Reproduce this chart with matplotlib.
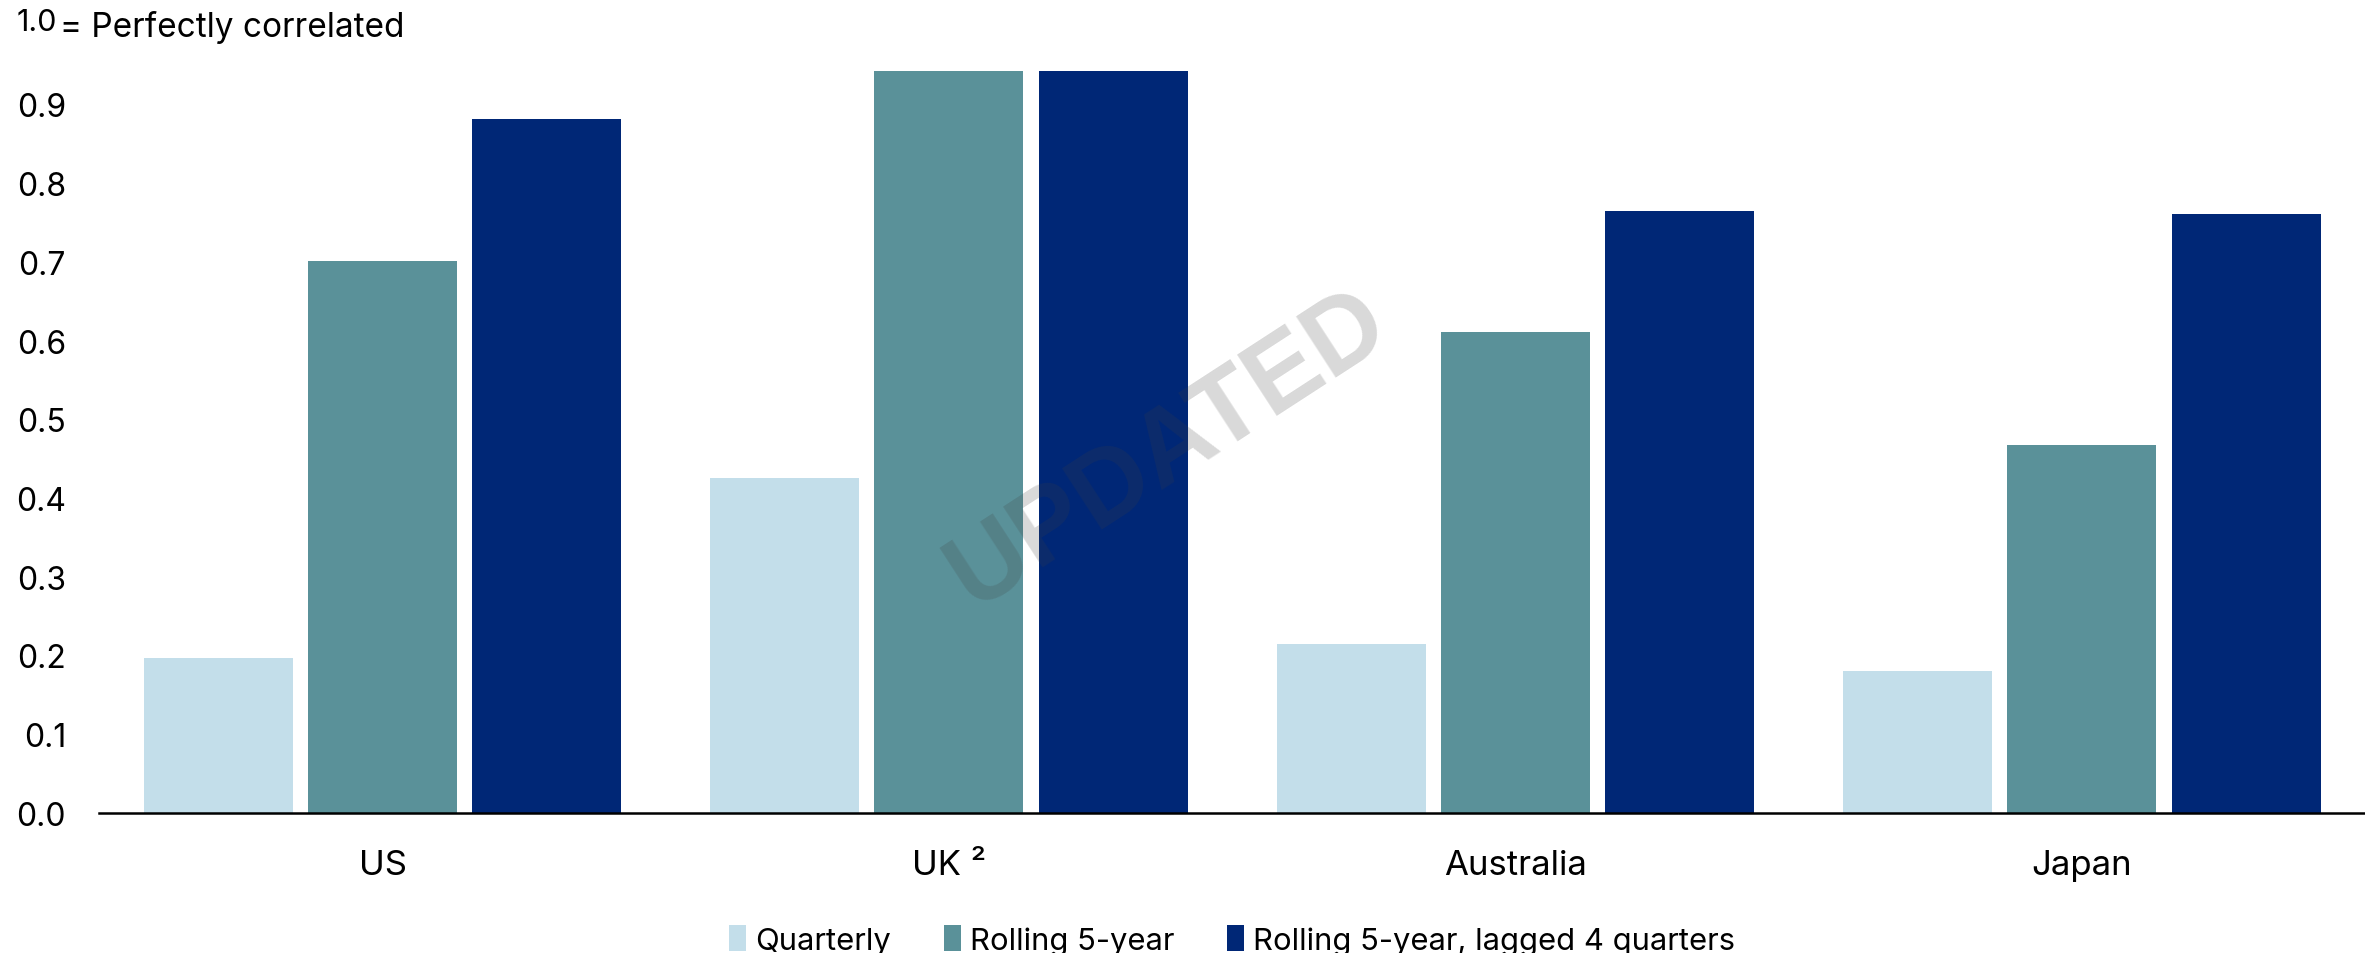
import numpy as np
import matplotlib
matplotlib.use("Agg")
import matplotlib.pyplot as plt

countries = ["US", "UK ²", "Australia", "Japan"]
quarterly = [0.197, 0.425, 0.215, 0.180]
rolling_5y = [0.701, 0.943, 0.611, 0.467]
rolling_5y_lagged = [0.881, 0.943, 0.764, 0.761]
series_names = ["Quarterly", "Rolling 5-year", "Rolling 5-year, lagged 4 quarters"]
colors = ["#C3DEEA", "#5A9199", "#002776"]
y_ticks = [0.0, 0.1, 0.2, 0.3, 0.4, 0.5, 0.6, 0.7, 0.8, 0.9]

plt.rcParams["font.family"] = ["Inter", "DejaVu Sans"]

fig = plt.figure(figsize=(23.65, 9.54), dpi=100)
ax = fig.add_axes([0.042, 0.147, 0.958, 0.825])

x = np.arange(len(countries))
width = 0.263
step = 0.29
for i, (vals, name, col) in enumerate(zip([quarterly, rolling_5y, rolling_5y_lagged], series_names, colors)):
    ax.bar(x + (i - 1) * step, vals, width, color=col, label=name, zorder=2)

ax.set_xlim(-0.5, 3.5)
ax.set_ylim(0, 1.0)
ax.set_yticks(y_ticks)
ax.set_yticklabels([f"{v:.1f}" for v in y_ticks])
ax.set_xticks(x)
ax.set_xticklabels(countries)
ax.tick_params(axis="y", length=0, pad=24, labelsize=23)
ax.tick_params(axis="x", length=0, pad=26, labelsize=25)
for s in ["top", "right", "left"]:
    ax.spines[s].set_visible(False)
ax.spines["bottom"].set_linewidth(1.8)
ax.spines["bottom"].set_zorder(3)

# top label for 1.0
fig.text(0.007, 0.976, "1.0", fontsize=22, va="center", ha="left")
fig.text(0.0255, 0.971, "= Perfectly correlated", fontsize=24, va="center", ha="left")

# watermark
fig.text(0.494, 0.529, "UPDATED", fontsize=76, rotation=33, ha="center", va="center",
         color="#404040", alpha=0.2, family="Liberation Sans", weight="bold", zorder=10)

ax.legend(loc="center", bbox_to_anchor=(0.5, -0.162), ncol=3, frameon=False,
          fontsize=22.3, handlelength=0.55, handleheight=0.9, handletextpad=0.3,
          columnspacing=1.7)

fig.savefig("out.png", dpi=100)
